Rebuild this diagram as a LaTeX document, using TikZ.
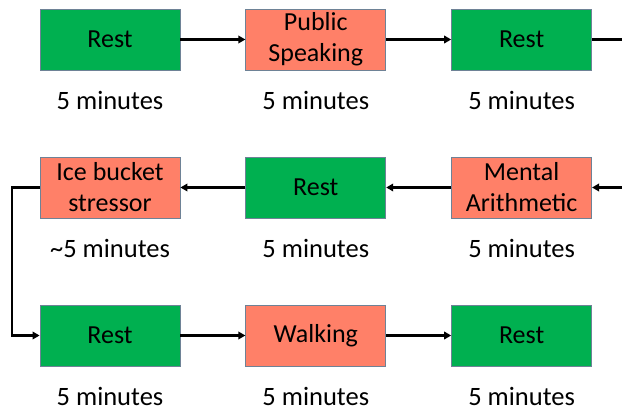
\documentclass[tikz,border=0pt]{standalone}
\usepackage{fontspec}
\setmainfont{Carlito}
\usetikzlibrary{positioning, arrows.meta}

\definecolor{restgreen}{RGB}{0,176,80}
\definecolor{stresssalmon}{RGB}{255,128,104}
\definecolor{boxline}{RGB}{110,130,150}

\begin{document}
\begin{tikzpicture}[
        x=1pt, y=1pt,
        node distance=65pt and 65pt,
        box/.style={draw=boxline, line width=0.8pt, minimum width=140pt, minimum height=61pt, align=center, inner sep=0pt, font=\fontsize{26}{31}\selectfont},
        rest/.style={box, fill=restgreen},
        stress/.style={box, fill=stresssalmon},
        lbl/.style={font=\fontsize{26.5}{31}\selectfont, inner sep=0pt},
        arrow/.style={draw, line width=2.2pt, -{Triangle[length=7pt, width=7.5pt]}}
    ]

    \useasboundingbox (0,0) rectangle (622,-411);

    % Zeile 1
    \node (r1) [rest] at (110,-39.5) {Rest};
    \node (ps) [stress, right=of r1] {Public\\Speaking};
    \node (r2) [rest, right=of ps] {Rest};

    % Zeile 2
    \node (ice) [stress] at (110,-187.5) {Ice bucket\\stressor};
    \node (r3) [rest, right=of ice] {Rest};
    \node (ma) [stress, right=of r3] {Mental\\Arithmetic};

    % Zeile 3
    \node (r4) [rest] at (110,-335.5) {Rest};
    \node (wk) [stress, right=of r4] {Walking};
    \node (r5) [rest, right=of wk] {Rest};

    % Dauer
    \node (t1) [lbl] at ([yshift=-30pt]r1.south) {5 minutes};
    \node (t2) [lbl] at ([yshift=-30pt]ps.south) {5 minutes};
    \node (t3) [lbl] at ([yshift=-30pt]r2.south) {5 minutes};
    \node (t4) [lbl] at ([yshift=-30pt]ice.south) {\textasciitilde5 minutes};
    \node (t5) [lbl] at ([yshift=-30pt]r3.south) {5 minutes};
    \node (t6) [lbl] at ([yshift=-30pt]ma.south) {5 minutes};
    \node (t7) [lbl] at ([yshift=-30pt]r4.south) {5 minutes};
    \node (t8) [lbl] at ([yshift=-30pt]wk.south) {5 minutes};
    \node (t9) [lbl] at ([yshift=-30pt]r5.south) {5 minutes};

    % Rand
    \coordinate (out1) at (622,-39.5);
    \coordinate (in2) at (622,-187.5);

    % Verbindungen
    \draw[arrow] (r1) -- (ps);
    \draw[arrow] (ps) -- (r2);
    \draw[line width=2.2pt] (r2) -- (out1);
    \draw[arrow] (in2) -- (ma);
    \draw[arrow] (ma) -- (r3);
    \draw[arrow] (r3) -- (ice);
    \draw[arrow] (ice.west) -- ++(-28pt,0) |- (r4.west);
    \draw[arrow] (r4) -- (wk);
    \draw[arrow] (wk) -- (r5);

\end{tikzpicture}
\end{document}
